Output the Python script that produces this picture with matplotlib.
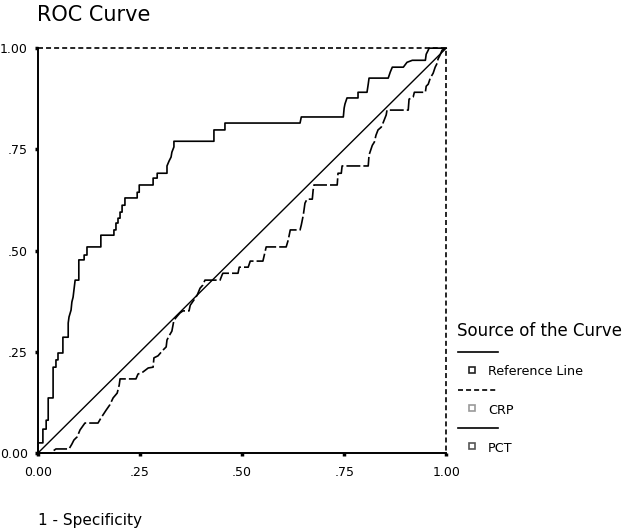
# ROC curve for PCT and CRP

import matplotlib
matplotlib.use('Agg')
import matplotlib.pyplot as plt
from matplotlib.lines import Line2D

plt.rcParams['font.family'] = 'DejaVu Sans'
plt.rcParams['lines.scale_dashes'] = False

# PCT curve (1 - specificity, sensitivity)
pct_fpr = [0, 0, 0.012, 0.012, 0.020, 0.020, 0.025, 0.025, 0.037, 0.037,
           0.044, 0.044, 0.049, 0.049, 0.061, 0.061, 0.074, 0.074, 0.076, 0.081,
           0.083, 0.086, 0.088, 0.091, 0.100, 0.100, 0.113, 0.113, 0.120, 0.120,
           0.154, 0.154, 0.186, 0.186, 0.191, 0.191, 0.196, 0.196, 0.201, 0.201,
           0.206, 0.206, 0.213, 0.213, 0.243, 0.243, 0.248, 0.248, 0.282, 0.282,
           0.292, 0.292, 0.316, 0.316, 0.321, 0.326, 0.328, 0.333, 0.333, 0.431,
           0.431, 0.458, 0.458, 0.642, 0.645, 0.748, 0.750, 0.752, 0.757, 0.784,
           0.784, 0.806, 0.809, 0.811, 0.858, 0.863, 0.868, 0.895, 0.904, 0.917,
           0.949, 0.951, 0.956, 0.958, 1.0]
pct_tpr = [0, 0.025, 0.025, 0.059, 0.059, 0.081, 0.081, 0.136, 0.136, 0.212,
           0.212, 0.230, 0.230, 0.247, 0.247, 0.286, 0.286, 0.321, 0.336, 0.353,
           0.373, 0.385, 0.402, 0.427, 0.427, 0.477, 0.477, 0.489, 0.489, 0.509,
           0.509, 0.538, 0.538, 0.551, 0.551, 0.568, 0.568, 0.580, 0.580, 0.595,
           0.595, 0.612, 0.612, 0.630, 0.630, 0.644, 0.644, 0.662, 0.662, 0.679,
           0.679, 0.691, 0.691, 0.709, 0.721, 0.731, 0.743, 0.756, 0.770, 0.770,
           0.798, 0.798, 0.815, 0.815, 0.830, 0.830, 0.852, 0.862, 0.877, 0.877,
           0.891, 0.891, 0.911, 0.926, 0.926, 0.941, 0.953, 0.953, 0.965, 0.970,
           0.970, 0.985, 0.995, 1.0, 1.0]

# CRP curve
crp_fpr = [0, 0.034, 0.037, 0.044, 0.076, 0.083, 0.088, 0.096, 0.103, 0.115,
           0.147, 0.154, 0.167, 0.176, 0.184, 0.194, 0.199, 0.201, 0.240, 0.245,
           0.257, 0.270, 0.282, 0.284, 0.294, 0.306, 0.314, 0.316, 0.321, 0.328,
           0.333, 0.341, 0.348, 0.355, 0.370, 0.373, 0.382, 0.390, 0.397, 0.404,
           0.409, 0.446, 0.451, 0.453, 0.490, 0.493, 0.515, 0.520, 0.551, 0.559,
           0.608, 0.613, 0.618, 0.642, 0.645, 0.650, 0.654, 0.659, 0.672, 0.674,
           0.676, 0.733, 0.735, 0.743, 0.745, 0.809, 0.811, 0.819, 0.824, 0.828,
           0.833, 0.841, 0.846, 0.853, 0.855, 0.907, 0.909, 0.919, 0.922, 0.949,
           0.951, 0.956, 0.961, 0.968, 0.973, 0.978, 0.980, 0.985, 0.990, 1.0]
crp_tpr = [0, 0, 0.005, 0.010, 0.010, 0.022, 0.032, 0.040, 0.057, 0.074,
           0.074, 0.086, 0.106, 0.119, 0.136, 0.148, 0.168, 0.183, 0.183, 0.195,
           0.200, 0.210, 0.212, 0.235, 0.240, 0.254, 0.262, 0.279, 0.289, 0.301,
           0.328, 0.338, 0.346, 0.351, 0.351, 0.365, 0.378, 0.390, 0.407, 0.415,
           0.427, 0.427, 0.440, 0.444, 0.444, 0.459, 0.459, 0.474, 0.474, 0.509,
           0.509, 0.526, 0.551, 0.551, 0.563, 0.588, 0.617, 0.627, 0.627, 0.649,
           0.662, 0.662, 0.691, 0.691, 0.709, 0.709, 0.736, 0.760, 0.768, 0.785,
           0.798, 0.805, 0.817, 0.835, 0.847, 0.847, 0.874, 0.879, 0.891, 0.891,
           0.906, 0.911, 0.926, 0.938, 0.953, 0.963, 0.973, 0.983, 0.995, 1.0]

ref_x = [0, 1]
ref_y = [0, 1]

# dashed frame on top and right
frame_x = [0, 1, 1]
frame_y = [1, 1, 0]

ticks = [0, 0.25, 0.5, 0.75, 1.0]
tick_labels = ['0.00', '.25', '.50', '.75', '1.00']

fig = plt.figure(figsize=(6.28, 5.32), dpi=100)
ax = fig.add_axes([0.0605, 0.1485, 0.65, 0.761])

ax.plot(frame_x, frame_y, color='black', lw=1.2, dashes=(3.6, 2.2), clip_on=False)
ax.plot(ref_x, ref_y, color='black', lw=1.0, clip_on=False)
ax.plot(crp_fpr, crp_tpr, color='black', lw=1.2, dashes=(10, 2.2), clip_on=False)
ax.plot(pct_fpr, pct_tpr, color='black', lw=1.2, clip_on=False)

ax.set_xlim(0, 1)
ax.set_ylim(0, 1)
ax.spines['top'].set_visible(False)
ax.spines['right'].set_visible(False)
ax.spines['left'].set_linewidth(1.4)
ax.spines['bottom'].set_linewidth(1.4)
ax.set_xticks(ticks)
ax.set_xticklabels(tick_labels)
ax.set_yticks(ticks)
ax.set_yticklabels(tick_labels)
ax.tick_params(length=2.2, width=2.5, direction='out', labelsize=9, pad=5)
ax.tick_params(axis='x', pad=7)

fig.text(0.059, 0.972, 'ROC Curve', fontsize=15, ha='left', va='center')
fig.text(0.060, 0.022, '1 - Specificity', fontsize=11, ha='left', va='center')

# legend drawn by hand
fig.text(0.728, 0.377, 'Source of the Curve', fontsize=12, ha='left', va='center')
leg_names = ['Reference Line', 'CRP', 'PCT']
leg_styles = ['-', '--', '-']
leg_marker_colors = ['#222222', '#999999', '#555555']
line_y = [0.339, 0.267, 0.195]
for i in range(3):
    y = line_y[i]
    l = Line2D([0.729, 0.793], [y, y], transform=fig.transFigure, color='black', lw=1.2)
    if leg_styles[i] == '--':
        l.set_dashes((3.6, 2.2))
    fig.lines.append(l)
    fig.lines.append(Line2D([0.751], [y - 0.034], transform=fig.transFigure, marker='s',
                            markersize=4, markerfacecolor='white',
                            markeredgecolor=leg_marker_colors[i], markeredgewidth=1.2))
    fig.text(0.777, y - 0.038, leg_names[i], fontsize=9.2, ha='left', va='center')

fig.savefig('out.png', dpi=100)
